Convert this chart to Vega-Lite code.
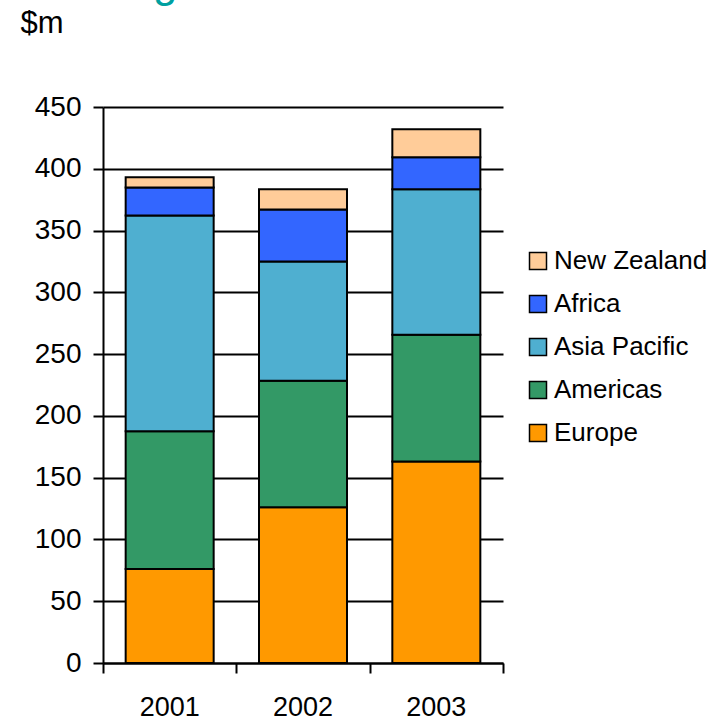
{
  "$schema": "https://vega.github.io/schema/vega-lite/v6.json",
  "width": 400,
  "height": 556,
  "autosize": {"type": "none"},
  "padding": {"left": 103, "top": 107, "right": 224, "bottom": 58},
  "background": "white",
  "config": {
    "view": {"stroke": null},
    "font": "Liberation Sans"
  },
  "title": {
    "text": "g",
    "anchor": "start",
    "frame": "group",
    "baseline": "alphabetic",
    "dx": 50,
    "offset": -34,
    "fontSize": 44,
    "fontWeight": "normal",
    "color": "#00A0A0"
  },
  "data": {
    "values": [
      {"year": "2001", "region": "Europe", "rank": 1, "value": 76},
      {"year": "2001", "region": "Americas", "rank": 2, "value": 111.5},
      {"year": "2001", "region": "Asia Pacific", "rank": 3, "value": 174.7},
      {"year": "2001", "region": "Africa", "rank": 4, "value": 22.6},
      {"year": "2001", "region": "New Zealand", "rank": 5, "value": 8.4},
      {"year": "2002", "region": "Europe", "rank": 1, "value": 126},
      {"year": "2002", "region": "Americas", "rank": 2, "value": 102.4},
      {"year": "2002", "region": "Asia Pacific", "rank": 3, "value": 96.5},
      {"year": "2002", "region": "Africa", "rank": 4, "value": 42.1},
      {"year": "2002", "region": "New Zealand", "rank": 5, "value": 16.4},
      {"year": "2003", "region": "Europe", "rank": 1, "value": 163.1},
      {"year": "2003", "region": "Americas", "rank": 2, "value": 102.5},
      {"year": "2003", "region": "Asia Pacific", "rank": 3, "value": 117.8},
      {"year": "2003", "region": "Africa", "rank": 4, "value": 25.9},
      {"year": "2003", "region": "New Zealand", "rank": 5, "value": 22.6}
    ]
  },
  "layer": [
    {
      "mark": {"type": "bar", "stroke": "black", "strokeWidth": 2},
      "encoding": {
        "x": {
          "field": "year",
          "type": "nominal",
          "scale": {"paddingInner": 0.34, "paddingOuter": 0.17},
          "axis": {
            "orient": "bottom",
            "title": null,
            "labelAngle": 0,
            "labelFontSize": 27,
            "labelColor": "black",
            "labelPadding": 31,
            "domainColor": "black",
            "domainWidth": 2,
            "ticks": false
          }
        },
        "y": {
          "field": "value",
          "type": "quantitative",
          "stack": "zero",
          "scale": {"domain": [0, 450], "nice": false},
          "axis": {
            "values": [0, 50, 100, 150, 200, 250, 300, 350, 400, 450],
            "title": "$m",
            "titleAngle": 0,
            "titleAlign": "left",
            "titleBaseline": "alphabetic",
            "titleX": -83,
            "titleY": -75,
            "titleFontSize": 31,
            "titleFontWeight": "normal",
            "titleColor": "black",
            "labelFontSize": 28,
            "labelColor": "black",
            "labelPadding": 12,
            "domainColor": "black",
            "domainWidth": 2,
            "tickColor": "black",
            "tickWidth": 2,
            "tickSize": 10,
            "grid": true,
            "gridColor": "black",
            "gridWidth": 2
          }
        },
        "color": {
          "field": "region",
          "type": "nominal",
          "scale": {
            "domain": ["New Zealand", "Africa", "Asia Pacific", "Americas", "Europe"],
            "range": ["#FFCC99", "#3366FF", "#4FAFD0", "#339966", "#FF9900"]
          },
          "legend": {
            "title": null,
            "orient": "none",
            "legendX": 422,
            "legendY": 141,
            "symbolType": "square",
            "symbolSize": 289,
            "symbolStrokeColor": "black",
            "symbolStrokeWidth": 1.5,
            "labelFontSize": 26,
            "labelColor": "black",
            "labelOffset": 3,
            "rowPadding": 17,
            "labelLimit": 300
          }
        },
        "order": {"field": "rank", "type": "quantitative"}
      }
    },
    {
      "mark": {"type": "point", "opacity": 0},
      "encoding": {
        "x": {
          "datum": 0,
          "type": "quantitative",
          "scale": {"domain": [0, 3], "nice": false},
          "axis": {
            "orient": "bottom",
            "title": null,
            "values": [0, 1, 2, 3],
            "labels": false,
            "domain": false,
            "grid": false,
            "tickColor": "black",
            "tickWidth": 2,
            "tickSize": 10
          }
        }
      }
    }
  ],
  "resolve": {"scale": {"x": "independent"}, "axis": {"x": "independent"}}
}
